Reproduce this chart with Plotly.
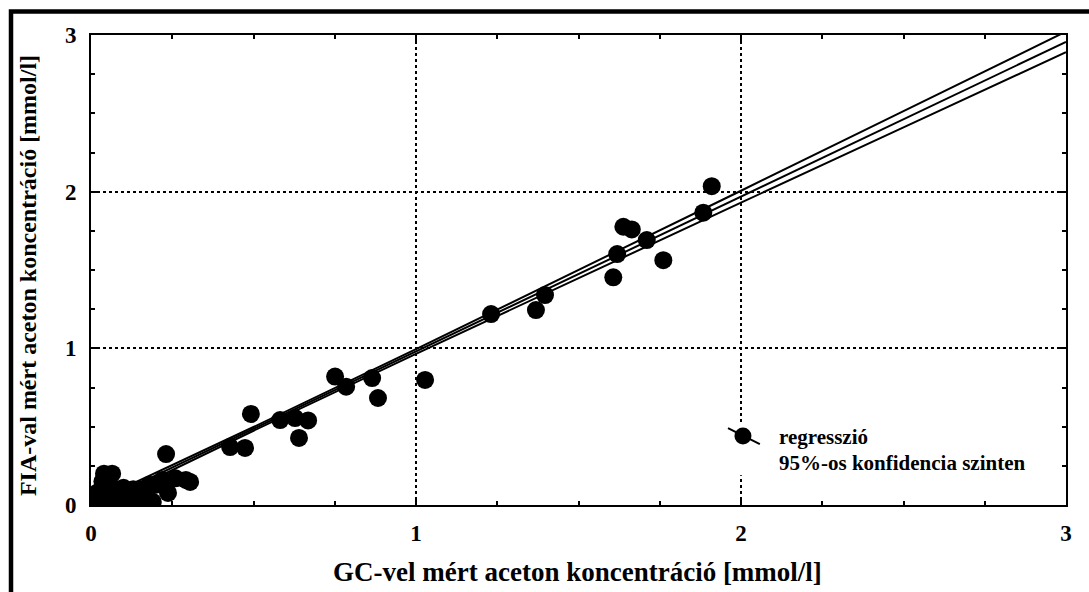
import plotly.graph_objects as go

# ---- data ----
gc_x = [1.910, 1.884, 1.638, 1.664, 1.710, 1.619, 1.761, 1.607,
        1.397, 1.369, 1.231, 1.028, 0.865, 0.883, 0.751, 0.785,
        0.668, 0.628, 0.582, 0.640, 0.492, 0.474, 0.428,
        0.000, 0.010, 0.020, 0.030, 0.040, 0.065, 0.040, 0.050,
        0.070, 0.090, 0.100, 0.120, 0.130, 0.140, 0.160, 0.180,
        0.190, 0.200, 0.220, 0.231, 0.237, 0.260, 0.292, 0.170,
        0.150, 0.110, 0.060, 0.020, 0.305, 0.085, 0.125,
        0.080, 0.100, 0.150, 0.050, 0.175, 0.035]
fia_y = [2.035, 1.866, 1.776, 1.759, 1.691, 1.602, 1.563, 1.453,
         1.340, 1.244, 1.219, 0.798, 0.810, 0.683, 0.820, 0.755,
         0.540, 0.555, 0.542, 0.428, 0.581, 0.364, 0.370,
         0.020, 0.000, 0.050, 0.000, 0.200, 0.200, 0.120, 0.070,
         0.030, 0.060, 0.000, 0.040, 0.100, 0.010, 0.060, 0.130,
         0.020, 0.130, 0.160, 0.325, 0.077, 0.170, 0.160, 0.080,
         0.030, 0.080, 0.100, 0.080, 0.147, 0.010, 0.000,
         0.100, 0.110, 0.100, 0.040, 0.040, 0.150]

band_x = [0.0, 0.5, 1.0, 1.5, 2.0, 2.5, 3.0]
reg_center = [-0.008, 0.486, 0.980, 1.474, 1.968, 2.462, 2.956]
reg_upper = [0.012, 0.498, 0.995, 1.499, 2.006, 2.514, 3.022]
reg_lower = [-0.028, 0.474, 0.965, 1.449, 1.930, 2.410, 2.890]

x_ticks = [0, 1, 2, 3]
y_ticks = [0, 1, 2, 3]

x_title = "GC-vel mért aceton koncentráció [mmol/l]"
y_title = "FIA-val mért aceton koncentráció [mmol/l]"
legend_lines = ["regresszió", "95%-os konfidencia szinten"]

FONT = "Liberation Serif"

fig = go.Figure()

for arr in (reg_upper, reg_center, reg_lower):
    fig.add_trace(go.Scatter(x=band_x, y=arr, mode="lines",
                             line=dict(color="black", width=2),
                             hoverinfo="skip", showlegend=False))

fig.add_trace(go.Scatter(x=gc_x, y=fia_y, mode="markers",
                         marker=dict(color="black", size=18, symbol="circle",
                                     line=dict(width=0)),
                         showlegend=False))

# legend sample: slanted line + dot
fig.add_trace(go.Scatter(x=[1.96, 2.058], y=[0.491, 0.389], mode="lines",
                         line=dict(color="black", width=2),
                         showlegend=False, hoverinfo="skip"))
fig.add_trace(go.Scatter(x=[2.006], y=[0.44], mode="markers",
                         marker=dict(color="black", size=17),
                         showlegend=False, hoverinfo="skip"))

axis_common = dict(
    range=[0, 3], showline=True, linecolor="black", linewidth=2,
    mirror="ticks", ticks="inside", ticklen=6, tickwidth=1.5, tickcolor="black",
    showgrid=True, gridcolor="black", gridwidth=1.5, griddash="3px,3px",
    zeroline=False, tickmode="array",
    tickfont=dict(family=FONT, size=23, color="black", weight="bold"),
    minor=dict(dtick=0.25, ticks="inside", ticklen=4, tickwidth=1.5,
               tickcolor="black", showgrid=False),
    fixedrange=True,
)

fig.update_xaxes(tickvals=x_ticks, ticktext=[str(v) for v in x_ticks],
                 ticklabelstandoff=6, **axis_common)
fig.update_yaxes(tickvals=y_ticks, ticktext=[str(v) for v in y_ticks],
                 ticklabelstandoff=8, **axis_common)

shapes = [
    # outer frame
    dict(type="rect", xref="paper", yref="paper",
         x0=(11 - 91) / 975, x1=1.1, y0=-0.3, y1=1 + (35 - 11.5) / 470,
         line=dict(color="black", width=4.5), fillcolor="rgba(0,0,0,0)",
         layer="above"),
    # white legend background hiding grid
    dict(type="rect", xref="x", yref="y", x0=1.94, x1=2.99, y0=0.19, y1=0.515,
         line=dict(width=0), fillcolor="white", layer="between"),
]

annotations = [
    dict(text=x_title, xref="paper", yref="paper", x=0.499, y=(505 - 572) / 470,
         xanchor="center", yanchor="middle", showarrow=False,
         font=dict(family=FONT, size=27, color="black", weight="bold")),
    dict(text=y_title, xref="paper", yref="paper", x=(28 - 91) / 975, y=0.487,
         xanchor="center", yanchor="middle", showarrow=False, textangle=-90,
         font=dict(family=FONT, size=24, color="black", weight="bold")),
    dict(text=legend_lines[0], xref="x", yref="y", x=2.11, y=0.434,
         xanchor="left", yanchor="middle", showarrow=False,
         font=dict(family=FONT, size=21, color="black", weight="bold")),
    dict(text=legend_lines[1], xref="x", yref="y", x=2.11, y=0.268,
         xanchor="left", yanchor="middle", showarrow=False,
         font=dict(family=FONT, size=21, color="black", weight="bold")),
]

fig.update_layout(
    width=1089, height=592,
    margin=dict(l=91, r=23, t=35, b=87),
    paper_bgcolor="white", plot_bgcolor="white",
    shapes=shapes, annotations=annotations,
    showlegend=False,
)

fig.write_html("out.html", config={"displayModeBar": False},
               post_script="document.body.style.margin='0';")
